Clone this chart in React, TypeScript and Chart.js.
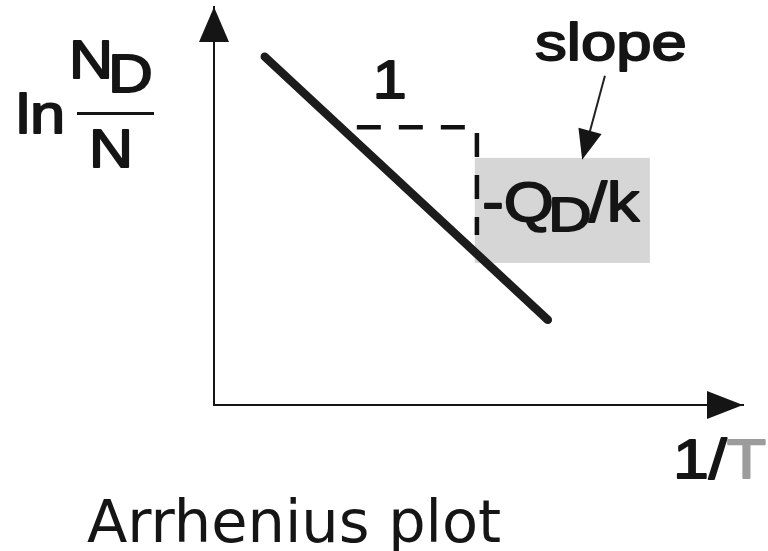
import React, { useEffect, useRef } from "react";
import { Chart, registerables } from "chart.js";

Chart.register(...registerables);

// Schematic Arrhenius line: ln(N_D/N) against 1/T (arbitrary units)
const invT = [0.96, 6.31];
const lnRatio = [8.75, 2.14];

// Slope triangle: run of 1 along x, rise of -Q_D/k down y
const triangleX = [2.7, 4.97, 4.97];
const triangleY = [6.98, 6.98, 4.27];

// Axis ranges (no ticks shown)
const xRange = [0, 10];
const yRange = [0, 10];

const INK = "#151515";
const ARIAL = '"Liberation Sans", Arial, sans-serif';
const STRETCH = 1.15;

function drawText(
  ctx: CanvasRenderingContext2D,
  text: string,
  x: number,
  y: number,
  font: string,
  color: string,
  sx: number = STRETCH,
  weight: number = 1.8
): number {
  ctx.save();
  ctx.font = font;
  ctx.fillStyle = color;
  ctx.strokeStyle = color;
  ctx.lineWidth = weight;
  ctx.lineJoin = "round";
  ctx.textAlign = "left";
  ctx.textBaseline = "alphabetic";
  ctx.translate(x, y);
  ctx.scale(sx, 1);
  ctx.fillText(text, 0, 0);
  if (weight > 0) ctx.strokeText(text, 0, 0);
  const w = ctx.measureText(text).width * sx;
  ctx.restore();
  return w;
}

function arrowHead(
  ctx: CanvasRenderingContext2D,
  tipX: number,
  tipY: number,
  fromX: number,
  fromY: number,
  len: number,
  half: number
) {
  const dx = tipX - fromX;
  const dy = tipY - fromY;
  const d = Math.hypot(dx, dy);
  const ux = dx / d;
  const uy = dy / d;
  const bx = tipX - ux * len;
  const by = tipY - uy * len;
  ctx.beginPath();
  ctx.moveTo(tipX, tipY);
  ctx.lineTo(bx - uy * half, by + ux * half);
  ctx.lineTo(bx + uy * half, by - ux * half);
  ctx.closePath();
  ctx.fill();
}

const annotations = {
  id: "arrheniusAnnotations",
  beforeDatasetsDraw(chart: any) {
    const { ctx } = chart;
    const xs = chart.scales.x;
    const ys = chart.scales.y;
    // shaded box behind the slope value
    const x0 = xs.getPixelForValue(4.93);
    const x1 = xs.getPixelForValue(8.24);
    const y0 = ys.getPixelForValue(6.21);
    const y1 = ys.getPixelForValue(3.57);
    ctx.save();
    ctx.fillStyle = "#d6d6d6";
    ctx.fillRect(x0, y0, x1 - x0, y1 - y0);
    ctx.restore();
  },
  afterDatasetsDraw(chart: any) {
    const { ctx, chartArea } = chart;
    const xs = chart.scales.x;
    const ys = chart.scales.y;
    const { left, right, top, bottom } = chartArea;

    ctx.save();
    ctx.fillStyle = INK;
    // axis arrowheads
    arrowHead(ctx, left, top, left, top + 50, 35, 15);
    arrowHead(ctx, right, bottom, right - 50, bottom, 36, 14);

    // pointer from "slope" to the shaded value
    const ax0 = xs.getPixelForValue(7.39);
    const ay0 = ys.getPixelForValue(8.27);
    const ax1 = xs.getPixelForValue(6.96);
    const ay1 = ys.getPixelForValue(6.16);
    const dx = ax1 - ax0;
    const dy = ay1 - ay0;
    const d = Math.hypot(dx, dy);
    ctx.strokeStyle = "#222";
    ctx.lineWidth = 2;
    ctx.beginPath();
    ctx.moveTo(ax0, ay0);
    ctx.lineTo(ax1 - (dx / d) * 25, ay1 - (dy / d) * 25);
    ctx.stroke();
    arrowHead(ctx, ax1, ay1, ax0, ay0, 30, 12);
    ctx.restore();

    const f56 = `56px ${ARIAL}`;
    const f53 = `53px ${ARIAL}`;

    // y-axis label: ln (N_D / N)
    drawText(ctx, "ln", left - 198, top + 126, `55px ${ARIAL}`, INK);
    drawText(ctx, "N", left - 145, top + 71, f53, INK);
    drawText(ctx, "D", left - 106, top + 85, `54px ${ARIAL}`, INK);
    ctx.save();
    ctx.fillStyle = INK;
    ctx.fillRect(left - 137, top + 105, 77, 3);
    ctx.restore();
    drawText(ctx, "N", left - 125, top + 160, f53, INK);

    // x-axis label: 1/T
    const w = drawText(ctx, "1/", right - 70, bottom + 73, f56, INK);
    drawText(ctx, "T", right - 70 + w, bottom + 73, f56, "#9c9c9c");

    // slope annotations
    drawText(ctx, "1", xs.getPixelForValue(3.0), ys.getPixelForValue(7.71), f53, INK);
    drawText(ctx, "slope", xs.getPixelForValue(6.07), ys.getPixelForValue(8.67), `52px ${ARIAL}`, INK, 1.22);
    drawText(ctx, "-Q", xs.getPixelForValue(5.07), ys.getPixelForValue(4.62), f56, INK);
    drawText(ctx, "D", xs.getPixelForValue(6.32), ys.getPixelForValue(4.37), `48px ${ARIAL}`, INK, 1.25);
    drawText(ctx, "/k", xs.getPixelForValue(7.09), ys.getPixelForValue(4.62), f56, INK);

    // caption
    drawText(ctx, "Arrhenius plot", left - 127, bottom + 137, '59px "DejaVu Sans", Verdana, sans-serif', INK, 1, 0);
  },
};

export default function App() {
  const canvasRef = useRef<HTMLCanvasElement | null>(null);

  useEffect(() => {
    const canvas = canvasRef.current;
    if (!canvas) return;
    const chart = new Chart(canvas, {
      type: "line",
      data: {
        datasets: [
          {
            label: "Arrhenius line",
            data: invT.map((x, i) => ({ x, y: lnRatio[i] })),
            borderColor: "#1c1c1c",
            borderWidth: 8.5,
            borderCapStyle: "round",
            pointRadius: 0,
            tension: 0,
            order: 1,
          },
          {
            label: "slope triangle",
            data: triangleX.map((x, i) => ({ x, y: triangleY[i] })),
            borderColor: "#111",
            borderWidth: 4.5,
            borderDash: [24, 18],
            borderCapStyle: "butt",
            borderJoinStyle: "miter",
            pointRadius: 0,
            tension: 0,
            order: 2,
          },
        ],
      },
      options: {
        responsive: false,
        animation: false,
        layout: { padding: { left: 214, top: 7, right: 25, bottom: 146 } },
        plugins: {
          legend: { display: false },
          tooltip: { enabled: false },
          title: { display: false },
        },
        scales: {
          x: {
            type: "linear",
            min: xRange[0],
            max: xRange[1],
            ticks: { display: false },
            grid: { display: false, drawTicks: false },
            border: { display: true, color: INK, width: 2 },
          },
          y: {
            type: "linear",
            min: yRange[0],
            max: yRange[1],
            ticks: { display: false },
            grid: { display: false, drawTicks: false },
            border: { display: true, color: INK, width: 2 },
          },
        },
      },
      plugins: [annotations],
    });
    return () => chart.destroy();
  }, []);

  return (
    <div
      style={{
        position: "fixed",
        left: 0,
        top: 0,
        width: 768,
        height: 551,
        background: "#fff",
      }}
    >
      <canvas ref={canvasRef} width={768} height={551} />
    </div>
  );
}
